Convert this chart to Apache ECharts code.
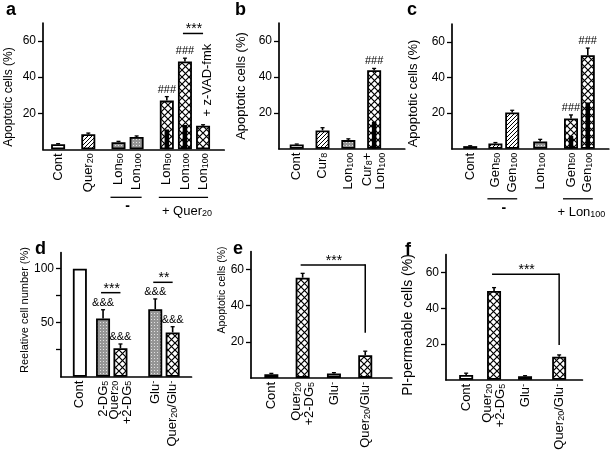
<!DOCTYPE html>
<html><head><meta charset="utf-8">
<script src="https://cdn.jsdelivr.net/npm/echarts@6/dist/echarts.min.js"></script>
<style>html,body{margin:0;padding:0;background:#fff}#c{width:614px;height:453px}</style>
</head><body><div id="c"></div>
<script>
// ---------------- DATA ----------------
// panel a
const aCategories = ['Cont', 'Quer{s|20}', 'Lon{s|50}', 'Lon{s|100}', 'Lon{s|50}', 'Lon{s|100}', 'Lon{s|100}'];
const aValues  = [2.8, 8.3, 3.9, 6.8, 27.0, 48.7, 13.1];
const aErrors  = [0.3, 0.7, 0.5, 0.6, 2.2, 1.8, 0.5];
const aCaspase = [null, null, null, null, 11.0, 13.5, null];
const aYTicks  = [20, 40, 60];
const aMarks   = ['', '', '', '', '###', '###', ''];
const aBrackets = [[5, 6, 64.2, '***']];
const aGroups  = [[2, 3, '-'], [4, 6, '+ Quer{s|20}']];
const aNote    = [6, '+ z-VAD-fmk'];
// panel b
const bCategories = ['Cont', 'Cur{s|8}', 'Lon{s|100}', 'Cur{s|8}+\nLon{s|100}'];
const bValues  = [2.4, 10.2, 4.8, 43.7];
const bErrors  = [0.2, 1.5, 0.7, 1.0];
const bCaspase = [null, null, null, 15.0];
const bYTicks  = [20, 40, 60];
const bMarks   = ['', '', '', '###'];
// panel c
const cCategories = ['Cont', 'Gen{s|50}', 'Gen{s|100}', 'Lon{s|100}', 'Gen{s|50}', 'Gen{s|100}'];
const cValues  = [1.5, 3.0, 20.4, 4.1, 17.0, 52.5];
const cErrors  = [0.2, 0.5, 1.2, 1.2, 2.0, 4.0];
const cCaspase = [null, null, null, null, 7.3, 26.0];
const cYTicks  = [20, 40, 60];
const cMarks   = ['', '', '', '', '###', '###'];
const cGroups  = [[1, 2, '-'], [4, 5, '+ Lon{s|100}']];
// panel d
const dCategories = ['Cont', '2-DG{s|5}', 'Quer{s|20}\n+2-DG{s|5}', 'Glu{u|-}', 'Quer{s|20}/Glu{u|-}'];
const dValues  = [100, 54, 26.3, 62.4, 41];
const dErrors  = [0, 8, 4, 9.6, 5.3];
const dYTicks  = [25, 50, 75, 100];
const dYLabels = [50, 100];
const dMarks   = ['', '&&&', '&&&', '&&&', '&&&'];
const dBrackets = [[1, 2, 77.8, '***'], [3, 4, 87.4, '**']];
// panel e
const eCategories = ['Cont', 'Quer{s|20}\n+2-DG{s|5}', 'Glu{u|-}', 'Quer{s|20}/Glu{u|-}'];
const eValues  = [2.0, 55.5, 2.5, 12.6];
const eErrors  = [0.5, 2.4, 0.4, 2.2];
const eYTicks  = [20, 40, 60];
const eBrackets = [[1, 3, 62.5, '***', 25]];
// panel f
const fCategories = ['Cont', 'Quer{s|20}\n+2-DG{s|5}', 'Glu{u|-}', 'Quer{s|20}/Glu{u|-}'];
const fValues  = [2.7, 49.6, 2.0, 12.9];
const fErrors  = [1.0, 1.9, 0.3, 1.0];
const fYTicks  = [20, 40, 60];
const fBrackets = [[1, 3, 58.9, '***', 19.4]];

// ---------------- STYLE / LAYOUT ----------------
const FONT = "'Liberation Sans', Arial, Helvetica, sans-serif";
function tile(w, h, draw) { const c = document.createElement('canvas'); c.width = w; c.height = h; const g = c.getContext('2d'); draw(g); return c; }
const crossImg = tile(7, 7, g => { g.fillStyle = '#fff'; g.fillRect(0, 0, 7, 7); g.strokeStyle = '#000'; g.lineWidth = 1.2;
  g.beginPath(); g.moveTo(-1, -1); g.lineTo(8, 8); g.moveTo(-1, 8); g.lineTo(8, -1); g.stroke(); });
const hatchImg = tile(4, 4, g => { g.fillStyle = '#fff'; g.fillRect(0, 0, 4, 4); g.strokeStyle = '#000'; g.lineWidth = 1;
  g.beginPath(); g.moveTo(-1, 5); g.lineTo(5, -1); g.moveTo(-1, 1); g.lineTo(1, -1); g.moveTo(3, 5); g.lineTo(5, 3); g.stroke(); });
const dotImg = tile(3, 3, g => { g.fillStyle = '#959595'; g.fillRect(0, 0, 3, 3); g.fillStyle = '#e2e2e2'; g.fillRect(1, 1, 1, 1); });
const FILL = {
  open: '#ffffff',
  hatch: { image: hatchImg, repeat: 'repeat' },
  dot: { image: dotImg, repeat: 'repeat' },
  cross: { image: crossImg, repeat: 'repeat' }
};
const RICH = {
  s: { fontSize: 9, verticalAlign: 'bottom', lineHeight: 6, fontFamily: FONT, color: '#000' },
  u: { fontSize: 9.5, verticalAlign: 'top', lineHeight: 6, fontFamily: FONT, color: '#000' }
};

const panels = [
  { id: 'a', cats: aCategories, vals: aValues, errs: aErrors, inner: aCaspase, ticks: aYTicks, labels: aYTicks,
    fills: ['open', 'hatch', 'dot', 'dot', 'cross', 'cross', 'cross'], marks: aMarks, brackets: aBrackets, groups: aGroups, note: aNote,
    left: 43, top: 23, height: 126.3, u: 6.04, n: 30, slots: [2, 7, 12, 15, 20, 23, 26], max: 70,
    name: 'Apoptotic cells (%)', nameSize: 12, nameX: 9, nameY: 97, tag: [6, 10.5], groupDy: 48 },
  { id: 'b', cats: bCategories, vals: bValues, errs: bErrors, inner: bCaspase, ticks: bYTicks, labels: bYTicks,
    fills: ['open', 'hatch', 'dot', 'cross'], marks: bMarks, brackets: [], groups: [],
    left: 279, top: 23, height: 125.7, u: 3.225, n: 39, slots: [5, 13, 21, 29], max: 70,
    name: 'Apoptotic cells (%)', nameSize: 13, nameX: 241.7, nameY: 86, tag: [235, 10.5] },
  { id: 'c', cats: cCategories, vals: cValues, errs: cErrors, inner: cCaspase, ticks: cYTicks, labels: cYTicks,
    fills: ['open', 'hatch', 'hatch', 'dot', 'cross', 'cross'], marks: cMarks, brackets: [], groups: cGroups,
    left: 452, top: 24, height: 124.8, u: 2.8, n: 56, slots: [6, 15, 21, 31, 42, 48], max: 70,
    name: 'Apoptotic cells (%)', nameSize: 13, nameX: 413, nameY: 93.5, tag: [407, 10.5], groupDy: 50 },
  { id: 'd', cats: dCategories, vals: dValues, errs: dErrors, inner: null, ticks: dYTicks, labels: dYLabels,
    fills: ['open', 'dot', 'cross', 'dot', 'cross'], marks: dMarks, brackets: dBrackets, groups: [],
    left: 61, top: 252.5, height: 124.2, u: 2.9, n: 45, slots: [6, 14, 20, 32, 38], max: 115,
    name: 'Reelative cell number (%)', nameSize: 11, nameX: 25, nameY: 310, tag: [35, 248.7] },
  { id: 'e', cats: eCategories, vals: eValues, errs: eErrors, inner: null, ticks: eYTicks, labels: eYTicks,
    fills: ['open', 'cross', 'dot', 'cross'], marks: null, brackets: eBrackets, groups: [],
    left: 251, top: 251.5, height: 126.4, u: 3.13, n: 45, slots: [6, 16, 26, 36], max: 70,
    name: 'Apoptotic cells (%)', nameSize: 10.5, nameX: 221.7, nameY: 290, tag: [233, 248.7] },
  { id: 'f', cats: fCategories, vals: fValues, errs: fErrors, inner: null, ticks: fYTicks, labels: fYTicks,
    fills: ['open', 'cross', 'dot', 'cross'], marks: null, brackets: fBrackets, groups: [],
    left: 446, top: 254.5, height: 125.3, u: 3.1, n: 44, slots: [6, 15, 25, 36], max: 70,
    name: 'PI-permeable cells (%)', nameSize: 14, nameX: 408.3, nameY: 325, tag: [405, 250.5] }
];

const chart = echarts.init(document.getElementById('c'), null, { renderer: 'canvas' });
const option = { animation: false, backgroundColor: '#fff', grid: [], xAxis: [], yAxis: [], series: [] };

panels.forEach((p, k) => {
  option.grid.push({ left: p.left, top: p.top, width: p.n * p.u, height: p.height });
  const cats = Array.from({ length: p.n }, (_, i) => 'c' + i);
  const labelAt = {};
  p.slots.forEach((s, i) => { labelAt[s] = p.cats[i]; });
  option.xAxis.push({
    type: 'category', gridIndex: k, data: cats, boundaryGap: true,
    axisLine: { show: true, lineStyle: { color: '#000', width: 1.7 } },
    axisTick: { show: false }, splitLine: { show: false },
    axisLabel: { interval: 0, rotate: 90, margin: 4, color: '#000', fontSize: 13, fontFamily: FONT, lineHeight: 13,
      formatter: (v, i) => labelAt[i] || '', rich: RICH }
  });
  option.yAxis.push({
    type: 'value', gridIndex: k, min: 0, max: p.max,
    axisLine: { show: true, lineStyle: { color: '#000', width: 1.7 } },
    axisTick: { show: true, inside: false, length: 5, lineStyle: { color: '#000', width: 1.3 }, customValues: p.ticks },
    axisLabel: { customValues: p.labels, color: '#000', fontSize: 12, fontFamily: FONT, margin: 7 },
    splitLine: { show: false }
  });
  const barData = Array(p.n).fill('-');
  p.slots.forEach((s, i) => { barData[s] = { value: p.vals[i], itemStyle: { color: FILL[p.fills[i]] } }; });
  option.series.push({ type: 'bar', xAxisIndex: k, yAxisIndex: k, data: barData, barWidth: 14, silent: true, z: 2,
    itemStyle: { borderColor: '#000', borderWidth: 1.8 } });
  if (p.inner) {
    const innerData = p.slots.map((s, i) => [s, p.inner[i]]).filter(d => d[1] != null);
    option.series.push({
      type: 'custom', xAxisIndex: k, yAxisIndex: k, data: innerData, encode: { x: 0, y: 1 }, z: 6, silent: true,
      renderItem: (params, api) => {
        const x = api.value(0), v = api.value(1);
        const p0 = api.coord([x, 0]), p1 = api.coord([x, v]);
        return { type: 'rect', shape: { x: p0[0] - 2.25, y: p1[1], width: 4.5, height: p0[1] - p1[1] }, style: { fill: '#000' } };
      }
    });
  }
  const errData = p.slots.map((s, i) => [s, p.vals[i], p.errs[i]]).filter(d => d[2] > 0);
  option.series.push({
    type: 'custom', xAxisIndex: k, yAxisIndex: k, data: errData, encode: { x: 0, y: 1 }, z: 7, silent: true,
    renderItem: (params, api) => {
      const x = api.value(0), v = api.value(1), e = api.value(2);
      const p0 = api.coord([x, v]), p1 = api.coord([x, v + e]);
      return { type: 'group', children: [
        { type: 'line', shape: { x1: p0[0], y1: p0[1], x2: p1[0], y2: p1[1] }, style: { stroke: '#000', lineWidth: 1.6 } },
        { type: 'line', shape: { x1: p1[0] - 2, y1: p1[1], x2: p1[0] + 2, y2: p1[1] }, style: { stroke: '#000', lineWidth: 1.3 } }
      ] };
    }
  });
});
chart.setOption(option);

// ---------------- ANNOTATIONS (positioned through the axes) ----------------
const G = [];
const GRICH = { s: { fontSize: 9, verticalAlign: 'bottom', lineHeight: 6, fontFamily: FONT, fill: '#000' } };
function txt(x, y, text, o) {
  o = o || {};
  G.push({ type: 'text', x: x, y: y, rotation: o.rot || 0, z: 100, silent: true,
    style: { text: text, fill: '#000', fontSize: o.size || 12, fontFamily: FONT, fontWeight: o.weight || 'normal',
      align: o.align || 'center', verticalAlign: o.va || 'middle', textAlign: o.align || 'center', textVerticalAlign: o.va || 'middle',
      lineHeight: o.lh || 13, rich: GRICH } });
}
function seg(x1, y1, x2, y2, w) {
  G.push({ type: 'line', z: 100, silent: true, shape: { x1: x1, y1: y1, x2: x2, y2: y2 }, style: { stroke: '#000', lineWidth: w || 1.5 } });
}
panels.forEach((p, k) => {
  const px = (i, v) => chart.convertToPixel({ xAxisIndex: k, yAxisIndex: k }, [p.slots[i], v]);
  txt(p.tag[0], p.tag[1], p.id, { size: 18, weight: 'bold', align: 'left' });
  txt(p.nameX, p.nameY, p.name, { size: p.nameSize, rot: Math.PI / 2 });
  if (p.marks) p.marks.forEach((m, i) => {
    if (!m) return;
    const q = px(i, p.vals[i] + p.errs[i]);
    txt(q[0], q[1] - 7, m, { size: 11 });
  });
  p.brackets.forEach(b => {
    const q1 = px(b[0], b[2]), q2 = px(b[1], b[2]);
    seg(q1[0] - 2, q1[1], q2[0], q2[1]);
    if (b.length > 4) { const q3 = px(b[1], b[4]); seg(q2[0], q2[1] - 0.75, q3[0], q3[1]); }
    txt((q1[0] + q2[0]) / 2, q1[1] - 4, b[3], { size: 14 });
  });
  (p.groups || []).forEach(gr => {
    const q1 = px(gr[0], 0), q2 = px(gr[1], 0);
    const y = q1[1] + p.groupDy;
    seg(q1[0] - 8, y, q2[0] + 5, y, 1.3);
    if (gr[2] === '-') txt((q1[0] + q2[0]) / 2, y + 9, gr[2], { size: 14, weight: 'bold' });
    else txt((q1[0] + q2[0]) / 2 + 2, y + 14, gr[2], { size: 13 });
  });
  if (p.note) {
    const i = p.note[0];
    const q = px(i, p.vals[i] + p.errs[i]);
    txt(q[0] + 4, q[1] - 8, p.note[1], { size: 13, rot: Math.PI / 2, align: 'left' });
  }
});
chart.setOption({ graphic: { elements: G } });
</script>
</body></html>
